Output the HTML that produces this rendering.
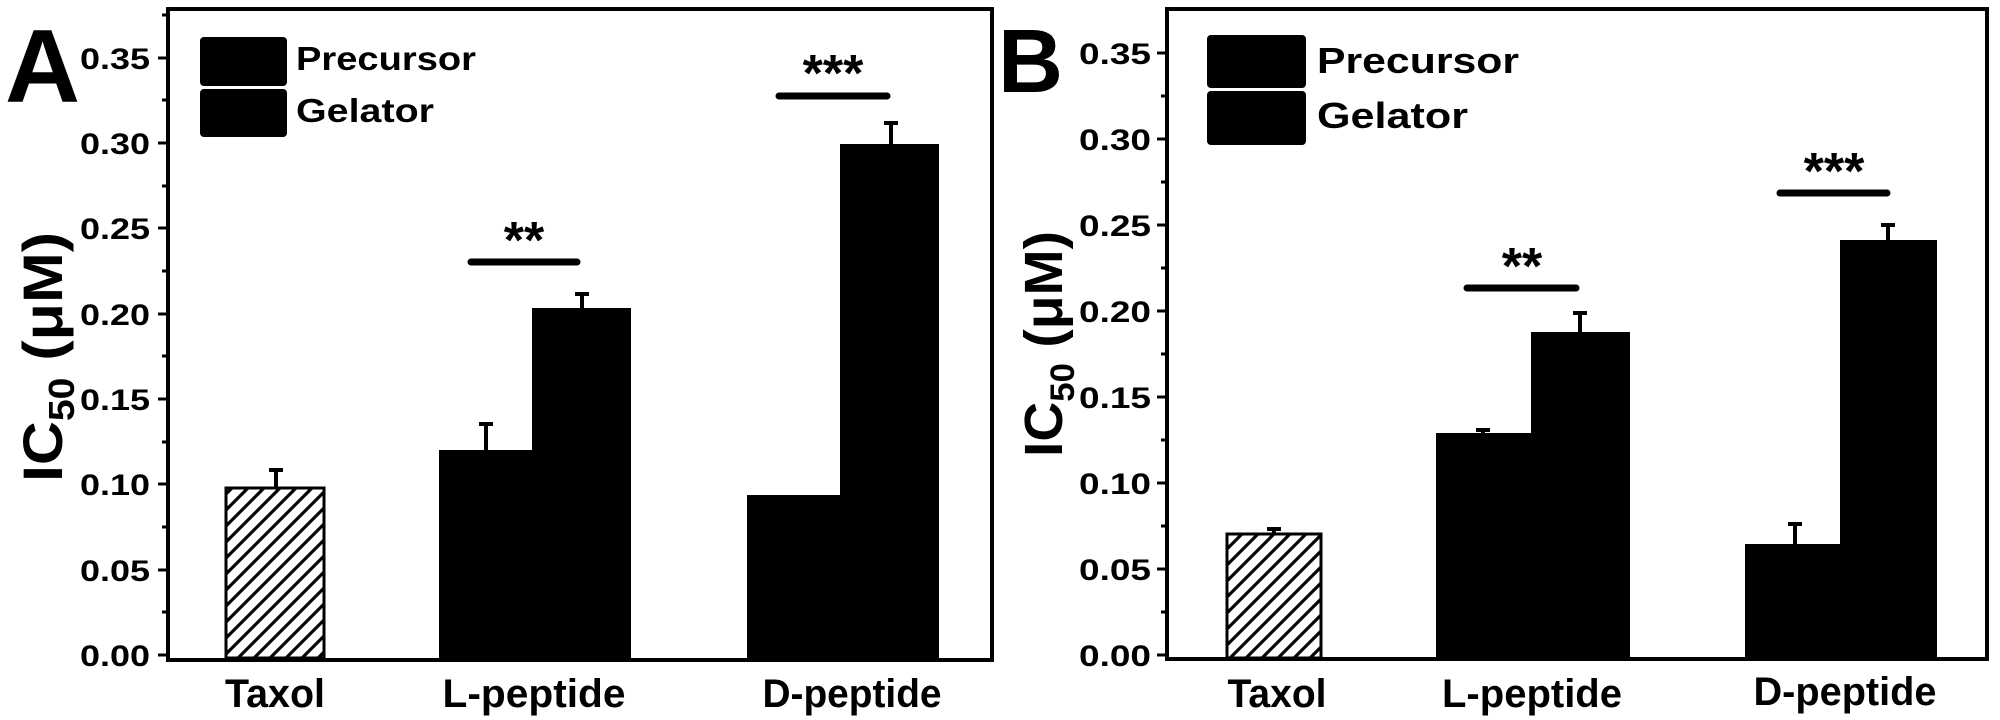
<!DOCTYPE html>
<html><head><meta charset="utf-8"><style>
html,body{margin:0;padding:0;background:#fff;}
svg{display:block;}
text{font-family:"Liberation Sans",sans-serif;font-weight:bold;fill:#000;}
</style></head><body>
<svg width="2000" height="720" viewBox="0 0 2000 720" xmlns="http://www.w3.org/2000/svg">
<defs>
<pattern id="h" patternUnits="userSpaceOnUse" width="16" height="16">
<path d="M-4,4 L4,-4 M0,16 L16,0 M12,20 L20,12" stroke="#000" stroke-width="3.2"/>
</pattern>
</defs>

<!-- Panel A -->
<g>
<rect x="168" y="9" width="824" height="651" fill="none" stroke="#000" stroke-width="4"/>
<g stroke="#000" stroke-width="3">
<line x1="158" y1="655" x2="168" y2="655"/><line x1="158" y1="570" x2="168" y2="570"/>
<line x1="158" y1="484" x2="168" y2="484"/><line x1="158" y1="399" x2="168" y2="399"/>
<line x1="158" y1="314" x2="168" y2="314"/><line x1="158" y1="228" x2="168" y2="228"/>
<line x1="158" y1="143" x2="168" y2="143"/><line x1="158" y1="58" x2="168" y2="58"/>
<line x1="162" y1="612" x2="168" y2="612"/><line x1="162" y1="527" x2="168" y2="527"/>
<line x1="162" y1="442" x2="168" y2="442"/><line x1="162" y1="356" x2="168" y2="356"/>
<line x1="162" y1="271" x2="168" y2="271"/><line x1="162" y1="186" x2="168" y2="186"/>
<line x1="162" y1="100" x2="168" y2="100"/><line x1="162" y1="15" x2="168" y2="15"/>
</g>
<g font-size="30" text-anchor="end">
<text x="150" y="666" textLength="70" lengthAdjust="spacingAndGlyphs">0.00</text><text x="150" y="581" textLength="70" lengthAdjust="spacingAndGlyphs">0.05</text>
<text x="150" y="495" textLength="70" lengthAdjust="spacingAndGlyphs">0.10</text><text x="150" y="410" textLength="70" lengthAdjust="spacingAndGlyphs">0.15</text>
<text x="150" y="325" textLength="70" lengthAdjust="spacingAndGlyphs">0.20</text><text x="150" y="239" textLength="70" lengthAdjust="spacingAndGlyphs">0.25</text>
<text x="150" y="154" textLength="70" lengthAdjust="spacingAndGlyphs">0.30</text><text x="150" y="69" textLength="70" lengthAdjust="spacingAndGlyphs">0.35</text>
</g>
<text x="5" y="102" font-size="104">A</text>
<text transform="translate(62,482) rotate(-90)" font-size="56" textLength="250" lengthAdjust="spacingAndGlyphs">IC<tspan font-size="36" dy="12">50</tspan><tspan dy="-12"> (μM)</tspan></text>
<rect x="200" y="37" width="87" height="49" rx="4" fill="#000"/>
<rect x="200" y="89" width="87" height="48" rx="4" fill="#000"/>
<text x="296" y="70" font-size="33" textLength="180" lengthAdjust="spacingAndGlyphs">Precursor</text>
<text x="296" y="122" font-size="33" textLength="138" lengthAdjust="spacingAndGlyphs">Gelator</text>
<rect x="226" y="488" width="98" height="170" fill="url(#h)" stroke="#000" stroke-width="3"/>
<rect x="439" y="450" width="93" height="208" fill="#000"/>
<rect x="532" y="308" width="99" height="350" fill="#000"/>
<rect x="747" y="495" width="93" height="163" fill="#000"/>
<rect x="840" y="144" width="99" height="514" fill="#000"/>
<g stroke="#000" stroke-width="4">
<line x1="276" y1="470" x2="276" y2="488"/><line x1="269" y1="470" x2="283" y2="470"/>
<line x1="486" y1="424" x2="486" y2="450"/><line x1="479" y1="424" x2="493" y2="424"/>
<line x1="582" y1="294" x2="582" y2="308"/><line x1="575" y1="294" x2="589" y2="294"/>
<line x1="891" y1="123" x2="891" y2="144"/><line x1="884" y1="123" x2="898" y2="123"/>
</g>
<line x1="471" y1="262" x2="577" y2="262" stroke="#000" stroke-width="7" stroke-linecap="round"/>
<line x1="779" y1="96" x2="887" y2="96" stroke="#000" stroke-width="7" stroke-linecap="round"/>
<text x="524" y="258" font-size="52" text-anchor="middle">**</text>
<text x="833" y="91" font-size="52" text-anchor="middle">***</text>
<g font-size="40" text-anchor="middle">
<text x="275" y="707" textLength="100" lengthAdjust="spacingAndGlyphs">Taxol</text>
<text x="534" y="707" textLength="183" lengthAdjust="spacingAndGlyphs">L-peptide</text>
<text x="852" y="707" textLength="179" lengthAdjust="spacingAndGlyphs">D-peptide</text>
</g>
</g>

<!-- Panel B -->
<g>
<rect x="1167" y="9" width="820" height="650" fill="none" stroke="#000" stroke-width="4"/>
<g stroke="#000" stroke-width="3">
<line x1="1157" y1="655" x2="1167" y2="655"/><line x1="1157" y1="569" x2="1167" y2="569"/>
<line x1="1157" y1="483" x2="1167" y2="483"/><line x1="1157" y1="397" x2="1167" y2="397"/>
<line x1="1157" y1="311" x2="1167" y2="311"/><line x1="1157" y1="225" x2="1167" y2="225"/>
<line x1="1157" y1="139" x2="1167" y2="139"/><line x1="1157" y1="53" x2="1167" y2="53"/>
<line x1="1161" y1="612" x2="1167" y2="612"/><line x1="1161" y1="526" x2="1167" y2="526"/>
<line x1="1161" y1="440" x2="1167" y2="440"/><line x1="1161" y1="354" x2="1167" y2="354"/>
<line x1="1161" y1="268" x2="1167" y2="268"/><line x1="1161" y1="182" x2="1167" y2="182"/>
<line x1="1161" y1="96" x2="1167" y2="96"/>
</g>
<g font-size="30" text-anchor="end">
<text x="1151" y="666" textLength="72" lengthAdjust="spacingAndGlyphs">0.00</text><text x="1151" y="580" textLength="72" lengthAdjust="spacingAndGlyphs">0.05</text>
<text x="1151" y="494" textLength="72" lengthAdjust="spacingAndGlyphs">0.10</text><text x="1151" y="408" textLength="72" lengthAdjust="spacingAndGlyphs">0.15</text>
<text x="1151" y="322" textLength="72" lengthAdjust="spacingAndGlyphs">0.20</text><text x="1151" y="236" textLength="72" lengthAdjust="spacingAndGlyphs">0.25</text>
<text x="1151" y="150" textLength="72" lengthAdjust="spacingAndGlyphs">0.30</text><text x="1151" y="64" textLength="72" lengthAdjust="spacingAndGlyphs">0.35</text>
</g>
<text x="998" y="92" font-size="90">B</text>
<text transform="translate(1062,457) rotate(-90)" font-size="54" textLength="226" lengthAdjust="spacingAndGlyphs">IC<tspan font-size="34" dy="12">50</tspan><tspan dy="-12"> (μM)</tspan></text>
<rect x="1207" y="35" width="99" height="53" rx="4" fill="#000"/>
<rect x="1207" y="91" width="99" height="54" rx="4" fill="#000"/>
<text x="1317" y="73" font-size="36" textLength="202" lengthAdjust="spacingAndGlyphs">Precursor</text>
<text x="1317" y="128" font-size="36" textLength="151" lengthAdjust="spacingAndGlyphs">Gelator</text>
<rect x="1227" y="534" width="94" height="124" fill="url(#h)" stroke="#000" stroke-width="3"/>
<rect x="1436" y="433" width="95" height="225" fill="#000"/>
<rect x="1531" y="332" width="99" height="326" fill="#000"/>
<rect x="1745" y="544" width="95" height="114" fill="#000"/>
<rect x="1840" y="240" width="97" height="418" fill="#000"/>
<g stroke="#000" stroke-width="4">
<line x1="1274" y1="529" x2="1274" y2="534"/><line x1="1267" y1="529" x2="1281" y2="529"/>
<line x1="1483" y1="430" x2="1483" y2="433"/><line x1="1476" y1="430" x2="1490" y2="430"/>
<line x1="1580" y1="313" x2="1580" y2="332"/><line x1="1573" y1="313" x2="1587" y2="313"/>
<line x1="1795" y1="524" x2="1795" y2="544"/><line x1="1788" y1="524" x2="1802" y2="524"/>
<line x1="1888" y1="225" x2="1888" y2="240"/><line x1="1881" y1="225" x2="1895" y2="225"/>
</g>
<line x1="1467" y1="288" x2="1576" y2="288" stroke="#000" stroke-width="7" stroke-linecap="round"/>
<line x1="1780" y1="193" x2="1887" y2="193" stroke="#000" stroke-width="7" stroke-linecap="round"/>
<text x="1522" y="284" font-size="52" text-anchor="middle">**</text>
<text x="1834" y="189" font-size="52" text-anchor="middle">***</text>
<g font-size="40" text-anchor="middle">
<text x="1277" y="707" textLength="99" lengthAdjust="spacingAndGlyphs">Taxol</text>
<text x="1532" y="707" textLength="180" lengthAdjust="spacingAndGlyphs">L-peptide</text>
<text x="1845" y="705" textLength="183" lengthAdjust="spacingAndGlyphs">D-peptide</text>
</g>
</g>
</svg>
</body></html>
